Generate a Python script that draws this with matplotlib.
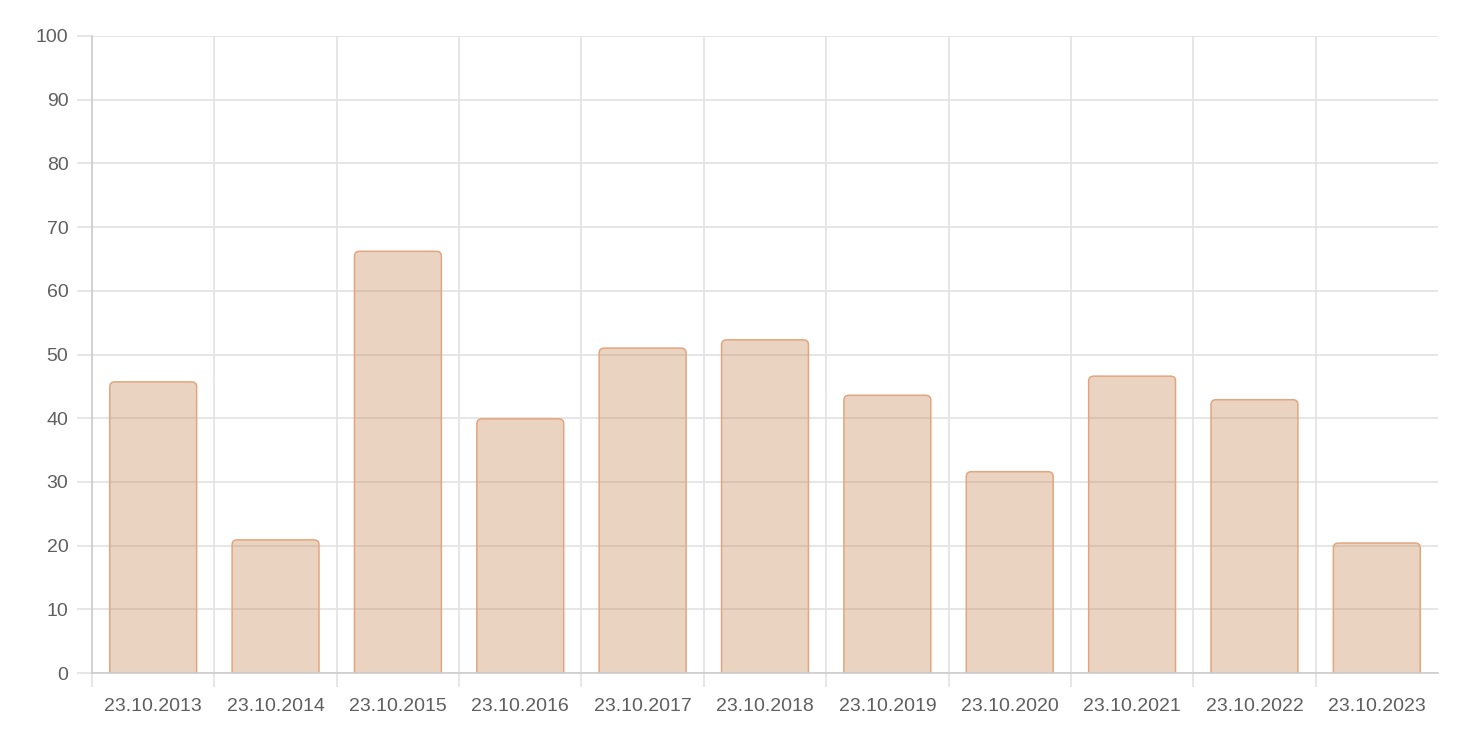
import matplotlib.pyplot as plt
from matplotlib.patches import FancyBboxPatch

# data
dates = ['23.10.2013', '23.10.2014', '23.10.2015', '23.10.2016', '23.10.2017', '23.10.2018',
         '23.10.2019', '23.10.2020', '23.10.2021', '23.10.2022', '23.10.2023']
values = [45.7, 20.9, 66.2, 39.9, 51.0, 52.3, 43.6, 31.6, 46.6, 42.9, 20.4]
yticks = [0, 10, 20, 30, 40, 50, 60, 70, 80, 90, 100]

plt.rcParams['font.family'] = ['Liberation Sans', 'DejaVu Sans']

fig = plt.figure(figsize=(14.66, 7.56), dpi=100)
ax = fig.add_axes([92 / 1466, 1 - 673 / 756, (1438 - 92) / 1466, (673 - 36) / 756])

n = len(dates)
ax.set_xlim(-0.5, n - 0.5)
ax.set_ylim(0, 100)

grid_col = '#e2e2e2'
fill_col = (0.78, 0.51, 0.32, 0.35)
edge_col = '#e2a67e'

# plain bars first, then swap them for rounded ones of the same size
bars = ax.bar(range(n), values, width=0.71)
px_x = n / (1438 - 92)        # data units per pixel in x
px_y = 100 / (673 - 36)       # data units per pixel in y
for b in bars:
    x0, w, h = b.get_x(), b.get_width(), b.get_height()
    b.remove()
    p = FancyBboxPatch((x0, -3), w, h + 3,
                       boxstyle=f'round,pad=0,rounding_size={5 * px_x}',
                       mutation_aspect=px_y / px_x,
                       facecolor=fill_col, edgecolor=edge_col, linewidth=1.1, zorder=2)
    ax.add_patch(p)

# ticks and grid
ax.set_yticks(yticks)
ax.set_xticks(range(n))
ax.set_xticklabels(dates)
ax.set_xticks([i - 0.5 for i in range(n)], minor=True)
ax.tick_params(axis='x', which='major', length=0, pad=18, labelsize=14, labelcolor='#5f5f5f')
ax.tick_params(axis='x', which='minor', length=10, width=1.2, color=grid_col)
ax.tick_params(axis='y', length=11, width=1.2, color=grid_col, pad=6, labelsize=14, labelcolor='#5f5f5f')
ax.grid(axis='y', which='major', color=grid_col, linewidth=1.2, zorder=0)
ax.grid(axis='x', which='minor', color=grid_col, linewidth=1.2, zorder=0)
ax.set_axisbelow(True)

for s in ['top', 'right']:
    ax.spines[s].set_visible(False)
for s in ['left', 'bottom']:
    ax.spines[s].set_color('#cccccc')
    ax.spines[s].set_linewidth(1.2)

plt.savefig('out.png', dpi=100)
